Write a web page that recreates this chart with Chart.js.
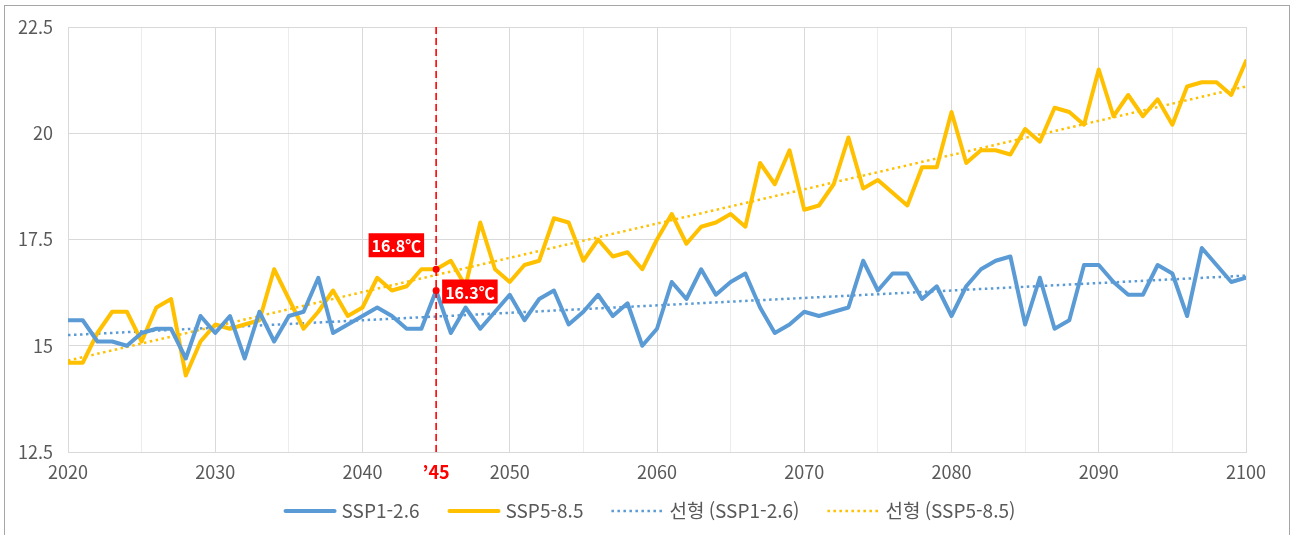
<!DOCTYPE html>
<html lang="ko">
<head>
<meta charset="utf-8">
<title>SSP 기온 전망</title>
<script src="https://cdn.jsdelivr.net/npm/chart.js@4.4.1/dist/chart.umd.min.js"></script>
<style>
  html, body { margin: 0; padding: 0; background: #fff; }
  #wrap { position: relative; width: 1293px; height: 535px; overflow: hidden; }
  #frame { position: absolute; left: 4px; top: 5px; width: 1284px; height: 540px; border: 1px solid #a6a6a6; pointer-events: none; }
  #chart { position: absolute; left: 0; top: 0; }
</style>
</head>
<body>
<div id="wrap">
  <canvas id="chart" width="1293" height="535"></canvas>
  <div id="frame"></div>
</div>
<script>
const years = [
  2020, 2021, 2022, 2023, 2024, 2025, 2026, 2027, 2028, 2029,
  2030, 2031, 2032, 2033, 2034, 2035, 2036, 2037, 2038, 2039,
  2040, 2041, 2042, 2043, 2044, 2045, 2046, 2047, 2048, 2049,
  2050, 2051, 2052, 2053, 2054, 2055, 2056, 2057, 2058, 2059,
  2060, 2061, 2062, 2063, 2064, 2065, 2066, 2067, 2068, 2069,
  2070, 2071, 2072, 2073, 2074, 2075, 2076, 2077, 2078, 2079,
  2080, 2081, 2082, 2083, 2084, 2085, 2086, 2087, 2088, 2089,
  2090, 2091, 2092, 2093, 2094, 2095, 2096, 2097, 2098, 2099, 2100
];

const ssp126 = [
  15.6, 15.6, 15.1, 15.1, 15.0, 15.3, 15.4, 15.4, 14.7, 15.7,
  15.3, 15.7, 14.7, 15.8, 15.1, 15.7, 15.8, 16.6, 15.3, 15.5,
  15.7, 15.9, 15.7, 15.4, 15.4, 16.3, 15.3, 15.9, 15.4, 15.8,
  16.2, 15.6, 16.1, 16.3, 15.5, 15.8, 16.2, 15.7, 16.0, 15.0,
  15.4, 16.5, 16.1, 16.8, 16.2, 16.5, 16.7, 15.9, 15.3, 15.5,
  15.8, 15.7, 15.8, 15.9, 17.0, 16.3, 16.7, 16.7, 16.1, 16.4,
  15.7, 16.4, 16.8, 17.0, 17.1, 15.5, 16.6, 15.4, 15.6, 16.9,
  16.9, 16.5, 16.2, 16.2, 16.9, 16.7, 15.7, 17.3, 16.9, 16.5, 16.6
];

const ssp585 = [
  14.6, 14.6, 15.3, 15.8, 15.8, 15.1, 15.9, 16.1, 14.3, 15.1,
  15.5, 15.4, 15.5, 15.6, 16.8, 16.1, 15.4, 15.8, 16.3, 15.7,
  15.9, 16.6, 16.3, 16.4, 16.8, 16.8, 17.0, 16.4, 17.9, 16.8,
  16.5, 16.9, 17.0, 18.0, 17.9, 17.0, 17.5, 17.1, 17.2, 16.8,
  17.5, 18.1, 17.4, 17.8, 17.9, 18.1, 17.8, 19.3, 18.8, 19.6,
  18.2, 18.3, 18.8, 19.9, 18.7, 18.9, 18.6, 18.3, 19.2, 19.2,
  20.5, 19.3, 19.6, 19.6, 19.5, 20.1, 19.8, 20.6, 20.5, 20.2,
  21.5, 20.4, 20.9, 20.4, 20.8, 20.2, 21.1, 21.2, 21.2, 20.9, 21.7
];

// linear trend lines, start and end values
const trendYears = [2020, 2100];
const trend126 = [15.25, 16.65];
const trend585 = [14.65, 21.1];

const yTicks = [12.5, 15, 17.5, 20, 22.5];
const highlightYear = 2045;

const blue = '#5b9bd5';
const yellow = '#ffc000';
const red = '#ff0000';
const textGray = '#595959';
const fontFamily = "'Noto Sans CJK KR', 'Noto Sans', sans-serif";

Chart.defaults.font.family = fontFamily;
Chart.defaults.color = textGray;

const toPoints = (xs, ys) => xs.map((x, i) => ({ x, y: ys[i] }));

// red dashed marker at 2045 with value labels
const marker2045 = {
  id: 'marker2045',
  afterDatasetsDraw(chart) {
    const { ctx, chartArea, scales: { x, y } } = chart;
    const idx = years.indexOf(highlightYear);
    const px = x.getPixelForValue(highlightYear);

    ctx.save();
    ctx.strokeStyle = red;
    ctx.lineWidth = 1.6;
    ctx.setLineDash([7, 4]);
    ctx.beginPath();
    ctx.moveTo(px, chartArea.top);
    ctx.lineTo(px, chartArea.bottom);
    ctx.stroke();
    ctx.setLineDash([]);

    const marks = [
      { value: ssp585[idx], side: 'left' },
      { value: ssp126[idx], side: 'right' }
    ];

    ctx.font = `bold 16px ${fontFamily}`;
    ctx.textBaseline = 'middle';
    marks.forEach(m => {
      const py = y.getPixelForValue(m.value);
      ctx.fillStyle = red;
      ctx.beginPath();
      ctx.arc(px, py, 3.5, 0, Math.PI * 2);
      ctx.fill();

      const text = `${m.value.toFixed(1)}℃`;
      const w = ctx.measureText(text).width + 6;
      const h = 24;
      const bx = m.side === 'left' ? px - 12 - w : px + 6;
      const by = m.side === 'left' ? py - 24 - h / 2 : py + 1 - h / 2;
      ctx.fillRect(bx, by, w, h);
      ctx.fillStyle = '#fff';
      ctx.textAlign = 'left';
      ctx.fillText(text, bx + 3, by + h / 2 + 1);
    });
    ctx.restore();
  }
};

// legend row under the axis, built from the datasets
const bottomLegend = {
  id: 'bottomLegend',
  afterDraw(chart) {
    const { ctx } = chart;
    const sampleW = 53, textGap = 5, itemGap = 28, rowY = 511;
    ctx.save();
    ctx.font = `19px ${fontFamily}`;
    ctx.textBaseline = 'middle';
    ctx.textAlign = 'left';

    const items = chart.data.datasets.map(ds => ({
      ds, textW: ctx.measureText(ds.label).width
    }));
    const total = items.reduce((s, it) => s + sampleW + textGap + it.textW, 0)
      + itemGap * (items.length - 1);
    let x = chart.width / 2 + 3 - total / 2;

    items.forEach(({ ds, textW }) => {
      const dashed = ds.borderDash && ds.borderDash.length;
      ctx.strokeStyle = ds.borderColor;
      ctx.lineWidth = ds.borderWidth;
      ctx.setLineDash(dashed ? ds.borderDash : []);
      ctx.lineCap = dashed ? 'butt' : 'round';
      ctx.beginPath();
      ctx.moveTo(x + (dashed ? 0 : 2), rowY);
      ctx.lineTo(x + sampleW - (dashed ? 0 : 2), rowY);
      ctx.stroke();
      ctx.setLineDash([]);

      ctx.fillStyle = textGray;
      ctx.fillText(ds.label, x + sampleW + textGap, rowY);
      x += sampleW + textGap + textW + itemGap;
    });
    ctx.restore();
  }
};

const lineBase = {
  pointRadius: 0,
  pointHoverRadius: 0,
  tension: 0,
  fill: false
};

new Chart(document.getElementById('chart'), {
  type: 'line',
  data: {
    datasets: [
      { ...lineBase, label: 'SSP1-2.6', data: toPoints(years, ssp126),
        borderColor: blue, borderWidth: 4,
        borderJoinStyle: 'round', borderCapStyle: 'round' },
      { ...lineBase, label: 'SSP5-8.5', data: toPoints(years, ssp585),
        borderColor: yellow, borderWidth: 4,
        borderJoinStyle: 'round', borderCapStyle: 'round' },
      { ...lineBase, label: '선형 (SSP1-2.6)', data: toPoints(trendYears, trend126),
        borderColor: blue, borderWidth: 2.5, borderDash: [2.5, 3.5] },
      { ...lineBase, label: '선형 (SSP5-8.5)', data: toPoints(trendYears, trend585),
        borderColor: yellow, borderWidth: 2.5, borderDash: [2.5, 3.5] }
    ]
  },
  options: {
    responsive: false,
    animation: false,
    events: [],
    layout: { padding: { top: 27, left: 12, right: 47, bottom: 47 } },
    scales: {
      x: {
        type: 'linear',
        min: 2020,
        max: 2100,
        afterFit: s => { s.height = 36; },
        ticks: {
          stepSize: 5,
          autoSkip: false,
          maxRotation: 0,
          padding: 9,
          font: ctx => ctx.tick && ctx.tick.value === highlightYear
            ? { size: 18, weight: 'bold' } : { size: 18 },
          color: ctx => ctx.tick && ctx.tick.value === highlightYear ? red : textGray,
          callback: v => {
            if (v === highlightYear) return '’45';
            return v % 10 === 0 ? String(v) : '';
          }
        },
        grid: {
          drawTicks: false,
          color: ctx => ctx.tick && ctx.tick.value % 10 === 0 ? '#d9d9d9' : '#ececec'
        },
        border: { color: '#d9d9d9' }
      },
      y: {
        min: 12.5,
        max: 22.5,
        afterFit: s => { s.width = 56; },
        afterBuildTicks: s => { s.ticks = yTicks.map(v => ({ value: v })); },
        ticks: { padding: 15, font: { size: 18 }, color: textGray },
        grid: { drawTicks: false, color: '#d9d9d9' },
        border: { display: false }
      }
    },
    plugins: {
      legend: { display: false },
      tooltip: { enabled: false }
    }
  },
  plugins: [marker2045, bottomLegend]
});
</script>
</body>
</html>
